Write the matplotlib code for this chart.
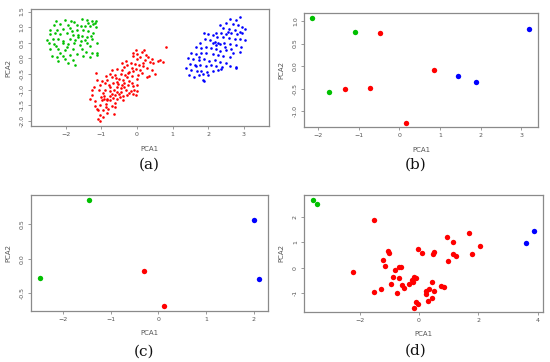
import matplotlib
matplotlib.use("Agg")
import matplotlib.pyplot as plt

# Panel (a): full PCA projection, three clusters
a_green_x = [-1.53, -1.39, -1.27, -1.16, -1.19, -1.24, -1.36, -2.27, -2.01, -1.85,
             -1.76, -2.34, -2.17, -1.92, -1.67, -1.56, -1.46, -1.32, -1.16, -2.43,
             -2.25, -2.08, -1.83, -1.69, -1.50, -1.36, -2.43, -2.29, -2.17, -1.97,
             -1.80, -1.64, -1.55, -1.41, -1.30, -2.53, -2.36, -2.20, -2.06, -1.88,
             -1.74, -1.58, -1.46, -1.27, -1.11, -2.34, -2.27, -2.06, -1.92, -1.76,
             -1.60, -1.41, -1.32, -2.43, -2.20, -2.01, -1.78, -1.55, -1.43, -1.27,
             -1.13, -2.39, -2.25, -2.06, -1.88, -1.69, -1.50, -1.32, -1.13, -2.20,
             -2.01, -1.78, -1.92, -1.74, -2.15, -1.97, -1.64, -1.22, -2.48, -1.88]
a_green_y = [1.26, 1.23, 1.21, 1.19, 1.12, 1.10, 1.12, 1.21, 1.23, 1.21,
             1.17, 1.08, 1.10, 1.08, 1.07, 1.05, 1.04, 1.04, 1.02, 0.91,
             0.91, 0.93, 0.89, 0.91, 0.91, 0.89, 0.77, 0.80, 0.77, 0.80,
             0.75, 0.76, 0.73, 0.70, 0.72, 0.59, 0.61, 0.62, 0.57, 0.61,
             0.59, 0.57, 0.59, 0.61, 0.50, 0.46, 0.40, 0.48, 0.46, 0.48,
             0.43, 0.48, 0.40, 0.29, 0.29, 0.27, 0.31, 0.29, 0.20, 0.18,
             0.16, 0.07, 0.05, 0.07, 0.11, 0.14, 0.07, 0.05, 0.10, -0.07,
             -0.03, -0.05, -0.16, -0.22, 0.16, 0.37, 0.67, 0.80, 0.48, 0.96]

a_red_x = [-1.08, -1.04, -0.85, -0.96, -0.80, -0.62, -1.04, -0.87, -0.99, -0.92,
           -0.83, -0.76, -0.66, -0.57, -0.48, -1.33, -1.18, -1.02, -0.92, -0.76,
           -0.62, -0.51, -0.38, -0.29, -0.12, -0.03, -0.18, -0.08, -0.01, -1.27,
           -1.20, -1.05, -0.90, -0.76, -0.63, -0.57, -0.46, -0.31, -1.04, -0.90,
           -0.77, -0.66, -0.52, -0.36, -0.24, -0.10, 0.01, -1.13, -0.98, -0.83,
           -0.69, -0.59, -0.49, -0.38, -0.27, -0.15, -0.01, -1.15, -0.87, -0.76,
           -0.61, -0.46, -0.34, -0.21, -0.10, -0.03, 0.08, 0.27, 0.34, 0.50,
           -0.71, -0.55, -0.43, -0.36, -0.27, -0.15, -0.06, 0.07, 0.18, 0.29,
           0.41, -0.42, -0.31, -0.18, -0.01, 0.08, 0.22, 0.36, 0.60, 0.64,
           0.74, -0.10, -0.01, 0.13, 0.20, 0.25, 0.31, 0.41, 0.81, -0.03,
           -0.10, -0.57, -0.76, -0.94, -0.46, -0.62, -0.71, -0.87, -1.04, -1.13,
           -0.21, -0.14, -0.43, -0.36, -0.55, -0.21, 0.04, 0.13, 0.16, 0.46,
           -0.26, -0.85, -0.71, -1.08, -0.94, -1.18, -0.40, -0.64, -1.27]
a_red_y = [-1.96, -2.00, -1.75, -1.66, -1.61, -1.57, -1.50, -1.47, -1.34, -1.32,
           -1.30, -1.34, -1.27, -1.30, -1.23, -1.32, -1.36, -1.23, -1.21, -1.21,
           -1.18, -1.15, -1.21, -1.18, -1.15, -1.18, -1.04, -1.02, -1.04, -1.02,
           -0.93, -1.00, -1.02, -1.04, -1.00, -0.91, -0.96, -1.02, -0.86, -0.80,
           -0.85, -0.78, -0.82, -0.78, -0.86, -0.89, -0.86, -0.70, -0.72, -0.70,
           -0.61, -0.63, -0.67, -0.70, -0.61, -0.57, -0.65, -0.48, -0.57, -0.50,
           -0.55, -0.50, -0.54, -0.43, -0.40, -0.33, -0.37, -0.61, -0.57, -0.50,
           -0.37, -0.33, -0.37, -0.27, -0.22, -0.32, -0.18, -0.22, -0.25, -0.32,
           -0.37, -0.16, -0.09, -0.14, -0.03, 0.03, -0.05, -0.11, -0.09, -0.05,
           -0.12, 0.16, 0.14, 0.21, 0.27, 0.10, 0.03, -0.03, 0.35, 0.27,
           0.07, -0.75, -0.93, -1.12, -1.07, -1.42, -1.53, -1.55, -1.82, -1.61,
           -0.72, -0.80, -0.86, -0.93, -1.07, -1.10, -0.54, -0.48, -0.16, -0.16,
           -0.46, -1.34, -1.15, -1.66, -1.87, -1.53, -1.34, -1.79, -1.18]

a_blue_x = [2.90, 2.79, 2.60, 2.49, 2.70, 2.84, 2.96, 3.02, 2.32, 2.42,
            2.58, 2.74, 2.88, 2.23, 2.37, 2.51, 2.65, 2.81, 2.96, 1.88,
            2.00, 2.14, 2.25, 2.42, 2.58, 2.74, 2.90, 3.02, 1.90, 2.06,
            2.18, 2.28, 2.23, 2.32, 2.43, 2.60, 2.79, 2.93, 1.76, 1.67,
            1.80, 1.95, 2.09, 2.21, 2.34, 2.51, 2.65, 2.88, 1.53, 1.67,
            1.81, 1.95, 2.12, 2.28, 2.42, 2.60, 1.44, 1.58, 1.74, 1.88,
            2.02, 2.18, 2.32, 2.51, 1.48, 1.62, 1.76, 1.93, 2.07, 2.23,
            2.40, 2.60, 1.39, 1.53, 1.69, 1.81, 1.97, 2.14, 2.28, 2.37,
            2.77, 2.79, 1.46, 1.60, 1.73, 1.86, 2.00, 1.86, 1.88, 1.67,
            2.46, 2.70, 2.14, 2.56, 1.74]
a_blue_y = [1.32, 1.23, 1.25, 1.12, 1.10, 1.07, 1.02, 0.93, 1.07, 0.96,
            0.95, 0.91, 0.86, 0.80, 0.82, 0.78, 0.80, 0.78, 0.82, 0.80,
            0.78, 0.74, 0.67, 0.70, 0.64, 0.61, 0.61, 0.59, 0.61, 0.59,
            0.54, 0.50, 0.44, 0.46, 0.48, 0.46, 0.43, 0.37, 0.48, 0.37,
            0.32, 0.35, 0.32, 0.29, 0.25, 0.27, 0.29, 0.21, 0.16, 0.14,
            0.18, 0.16, 0.13, 0.11, 0.07, 0.05, 0.00, -0.03, -0.05, -0.02,
            -0.07, -0.05, -0.11, -0.14, -0.18, -0.21, -0.22, -0.25, -0.21, -0.25,
            -0.29, -0.25, -0.32, -0.37, -0.40, -0.42, -0.43, -0.40, -0.37, -0.35,
            -0.31, -0.27, -0.54, -0.59, -0.55, -0.50, -0.55, -0.70, -0.74, -0.25,
            0.37, 0.16, 0.48, 0.86, 0.05]

# Panel (b)
b_green_x = [-2.14, -1.09, -1.72]
b_green_y = [1.07, 0.76, -0.57]
b_red_x = [-0.48, -1.33, -0.71, 0.16, 0.85]
b_red_y = [0.73, -0.51, -0.49, -1.26, -0.09]
b_blue_x = [1.45, 1.89, 3.20]
b_blue_y = [-0.21, -0.35, 0.83]

# Panel (c)
c_green_x = [-1.44, -2.47]
c_green_y = [0.85, -0.28]
c_red_x = [-0.30, 0.11]
c_red_y = [-0.18, -0.69]
c_blue_x = [2.01, 2.11]
c_blue_y = [0.57, -0.29]

# Panel (d)
d_green_x = [-3.58, -3.43]
d_green_y = [2.65, 2.49]
d_blue_x = [3.61, 3.88]
d_blue_y = [0.98, 1.45]
d_red_x = [-1.51, -2.21, 1.69, 0.94, 1.13, 2.04, -1.03, -1.02, -0.03, 0.10,
           0.52, 0.48, 1.15, 1.78, 1.26, -1.20, 0.97, -1.14, -0.68, -0.62,
           -0.81, -0.87, -0.69, -0.17, -0.09, -0.24, -0.22, -0.93, -0.59, -0.33,
           0.43, -0.49, -1.27, -1.53, -0.74, 0.32, 0.74, 0.83, 0.22, 0.49,
           0.25, 0.44, 0.29, -0.09, -0.04, -0.18]
d_red_y = [1.88, -0.18, 1.36, 1.20, 0.99, 0.86, 0.67, 0.58, 0.72, 0.58,
           0.63, 0.53, 0.55, 0.55, 0.46, 0.32, 0.28, 0.06, 0.02, 0.02,
           -0.10, -0.36, -0.39, -0.37, -0.40, -0.48, -0.56, -0.62, -0.67, -0.63,
           -0.57, -0.80, -0.84, -0.96, -0.97, -0.82, -0.71, -0.74, -0.91, -0.91,
           -1.01, -1.19, -1.29, -1.36, -1.43, -1.57]

GREEN = "#00C000"
RED = "#FF0000"
BLUE = "#0000FF"
GREY = "#555555"


def style(ax, xticks, yticks, ylabels):
    for s in ax.spines.values():
        s.set_color("#8a8a8a")
        s.set_linewidth(0.9)
    ax.set_xticks(xticks)
    ax.set_yticks(yticks)
    ax.set_yticklabels(ylabels, rotation=90, va="center")
    ax.tick_params(length=2.5, width=0.6, colors="#8a8a8a", labelcolor=GREY,
                   labelsize=4.5, pad=2)
    ax.set_xlabel("PCA1", fontsize=5, color=GREY, labelpad=6)
    ax.set_ylabel("PCA2", fontsize=5, color=GREY, labelpad=6)


fig = plt.figure(figsize=(5.5, 3.62), dpi=100)

ax = fig.add_axes([0.0558, 0.652, 0.433, 0.322])
ax.scatter(a_green_x, a_green_y, s=3.5, color=GREEN, linewidths=0)
ax.scatter(a_red_x, a_red_y, s=3.5, color=RED, linewidths=0)
ax.scatter(a_blue_x, a_blue_y, s=3.5, color=BLUE, linewidths=0)
ax.set_xlim(-2.98, 3.70)
ax.set_ylim(-2.17, 1.57)
style(ax, [-2, -1, 0, 1, 2, 3],
      [1.5, 1.0, 0.5, 0.0, -0.5, -1.0, -1.5, -2.0],
      ["1.5", "1.0", "0.5", "0.0", "-0.5", "-1.0", "-1.5", "-2.0"])

ax = fig.add_axes([0.553, 0.649, 0.425, 0.314])
ax.scatter(b_green_x, b_green_y, s=15, color=GREEN, linewidths=0)
ax.scatter(b_red_x, b_red_y, s=15, color=RED, linewidths=0)
ax.scatter(b_blue_x, b_blue_y, s=15, color=BLUE, linewidths=0)
ax.set_xlim(-2.34, 3.41)
ax.set_ylim(-1.35, 1.17)
style(ax, [-2, -1, 0, 1, 2, 3], [1.0, 0.5, 0.0, -0.5, -1.0],
      ["1.0", "0.5", "0.0", "-0.5", "-1.0"])

ax = fig.add_axes([0.0558, 0.142, 0.431, 0.320])
ax.scatter(c_green_x, c_green_y, s=15, color=GREEN, linewidths=0)
ax.scatter(c_red_x, c_red_y, s=15, color=RED, linewidths=0)
ax.scatter(c_blue_x, c_blue_y, s=15, color=BLUE, linewidths=0)
ax.set_xlim(-2.67, 2.29)
ax.set_ylim(-0.75, 0.93)
style(ax, [-2, -1, 0, 1, 2], [0.5, 0.0, -0.5], ["0.5", "0.0", "-0.5"])

ax = fig.add_axes([0.553, 0.139, 0.434, 0.323])
ax.scatter(d_green_x, d_green_y, s=15, color=GREEN, linewidths=0)
ax.scatter(d_red_x, d_red_y, s=15, color=RED, linewidths=0)
ax.scatter(d_blue_x, d_blue_y, s=15, color=BLUE, linewidths=0)
ax.set_xlim(-3.87, 4.17)
ax.set_ylim(-1.72, 2.86)
style(ax, [-2, 0, 2, 4], [2, 1, 0, -1], ["2", "1", "0", "-1"])

# sub-figure captions
for x, y, lab in [(0.272, 0.545, "(a)"), (0.755, 0.545, "(b)"),
                  (0.262, 0.028, "(c)"), (0.755, 0.030, "(d)")]:
    fig.text(x, y, lab, fontsize=11, family="DejaVu Serif",
             ha="center", va="center", color="#111111")

fig.savefig("out.png", dpi=100)
